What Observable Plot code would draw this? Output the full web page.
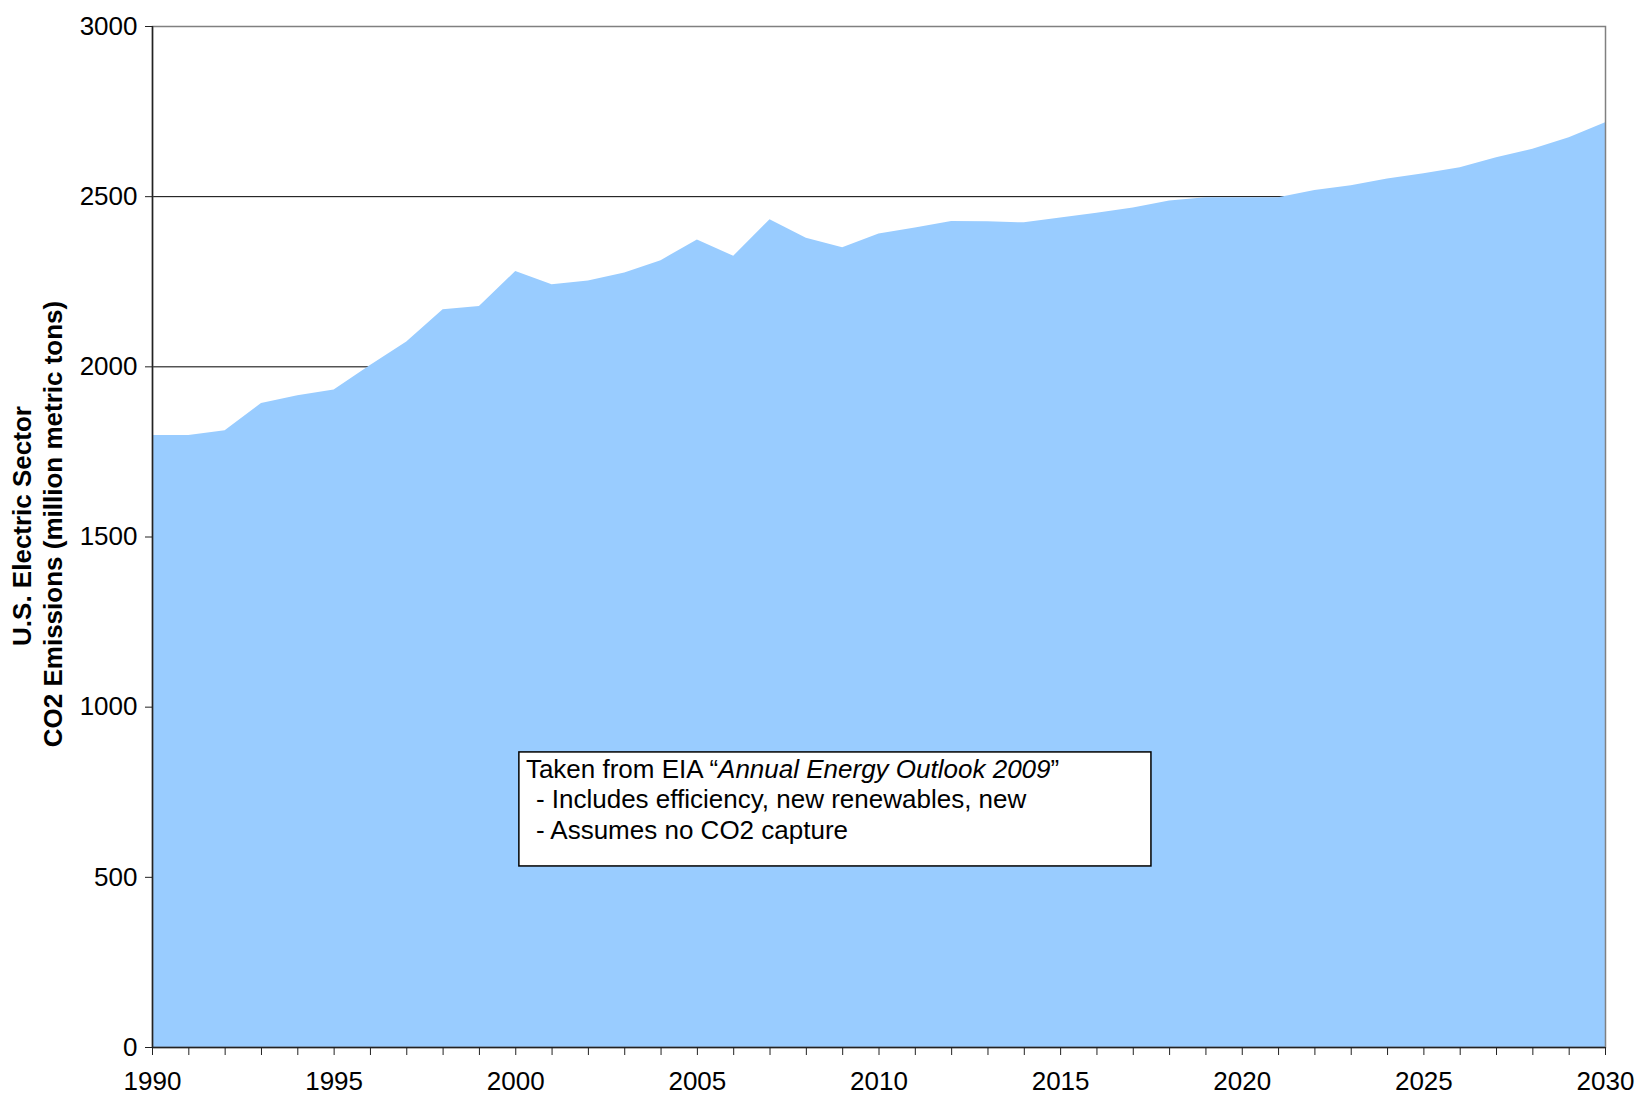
<!DOCTYPE html>
<html><head><meta charset="utf-8">
<script src="https://cdn.jsdelivr.net/npm/d3@7"></script>
<script src="https://cdn.jsdelivr.net/npm/@observablehq/plot@0.6"></script>
<style>
body{margin:0;background:#fff;}
#chart svg{display:block;}
</style></head><body><div id="chart"></div>
<script>
// ---- data ----
const years = [1990,1991,1992,1993,1994,1995,1996,1997,1998,1999,
  2000,2001,2002,2003,2004,2005,2006,2007,2008,2009,
  2010,2011,2012,2013,2014,2015,2016,2017,2018,2019,
  2020,2021,2022,2023,2024,2025,2026,2027,2028,2029,2030];
const emissions = [1798,1798,1812,1892,1915,1932,2004,2073,2168,2177,
  2280,2241,2252,2276,2312,2373,2325,2432,2378,2350,
  2390,2408,2427,2426,2423,2437,2451,2467,2487,2497,
  2497,2497,2518,2532,2552,2567,2585,2614,2639,2673,2717];
const yTicks = [0,500,1000,1500,2000,2500,3000];
const gridValues = [500,1000,1500,2000,2500];
const xLabelTicks = [1990,1995,2000,2005,2010,2015,2020,2025,2030];
const titleLines = ["U.S. Electric Sector", "CO2 Emissions (million metric tons)"];
const notePrefix = "Taken from EIA \u201C";
const noteItalic = "Annual Energy Outlook 2009";
const noteSuffix = "\u201D";
const noteLines = ["- Includes efficiency, new renewables, new", "- Assumes no CO2 capture"];

const data = years.map((year, i) => ({year, value: emissions[i]}));
const font = "Arial, 'Liberation Sans', sans-serif";

const plot = Plot.plot({
  width: 1637, height: 1095,
  marginLeft: 152, marginRight: 32, marginTop: 26, marginBottom: 48,
  style: {fontFamily: font, fontSize: "26px", color: "#000", background: "#fff"},
  x: {domain: [1990, 2030]},
  y: {domain: [0, 3000]},
  marks: [
    Plot.ruleY(gridValues, {stroke: "#000", strokeWidth: 1}),
    Plot.areaY(data, {x: "year", y: "value", fill: "#99CCFF"}),
    Plot.frame({stroke: "#808080", strokeWidth: 1.5}),
    Plot.ruleX([1990], {stroke: "#222", strokeWidth: 1.5}),
    Plot.ruleY([0], {stroke: "#222", strokeWidth: 1.5}),
    Plot.axisY({ticks: yTicks, tickSize: 7, tickPadding: 8, tickFormat: d => String(d), label: null, stroke: "#222"}),
    Plot.axisX({ticks: years, tickSize: 8, tickFormat: () => "", label: null, stroke: "#222"}),
    Plot.axisX({ticks: xLabelTicks, tickSize: 0, tickPadding: 24.5, tickFormat: d => String(d), label: null}),
    Plot.text([titleLines[0]], {text: d => d, frameAnchor: "left", textAnchor: "middle", rotate: -90, dx: -130, dy: -11, fontWeight: "bold", fontSize: 26}),
    Plot.text([titleLines[1]], {text: d => d, frameAnchor: "left", textAnchor: "middle", rotate: -90, dx: -99, dy: -13, fontWeight: "bold", fontSize: 26})
  ]
});
document.getElementById("chart").appendChild(plot);

// ---- annotation box ----
const ns = "http://www.w3.org/2000/svg";
const xs = plot.scale("x"), ys = plot.scale("y");
const bx1 = xs.apply(2000.1), bx2 = xs.apply(2017.5);
const by1 = ys.apply(867), by2 = ys.apply(532);
const g = document.createElementNS(ns, "g");
g.setAttribute("font-family", font);
g.setAttribute("font-size", "26");
g.setAttribute("text-anchor", "start");
const rect = document.createElementNS(ns, "rect");
rect.setAttribute("x", bx1); rect.setAttribute("y", by1);
rect.setAttribute("width", bx2 - bx1); rect.setAttribute("height", by2 - by1);
rect.setAttribute("fill", "#fff"); rect.setAttribute("stroke", "#000"); rect.setAttribute("stroke-width", "1.5");
g.appendChild(rect);
function tspan(parent, str, opts = {}) {
  const t = document.createElementNS(ns, "tspan");
  t.textContent = str;
  for (const k in opts) t.setAttribute(k, opts[k]);
  parent.appendChild(t);
}
const t1 = document.createElementNS(ns, "text");
t1.setAttribute("x", bx1 + 7); t1.setAttribute("y", by1 + 26);
t1.setAttribute("xml:space", "preserve");
tspan(t1, notePrefix);
tspan(t1, noteItalic, {"font-style": "italic"});
tspan(t1, noteSuffix);
g.appendChild(t1);
noteLines.forEach((line, i) => {
  const t = document.createElementNS(ns, "text");
  t.setAttribute("x", bx1 + 17); t.setAttribute("y", by1 + 26 + 30.5 * (i + 1));
  t.textContent = line;
  g.appendChild(t);
});
plot.appendChild(g);
</script></body></html>
